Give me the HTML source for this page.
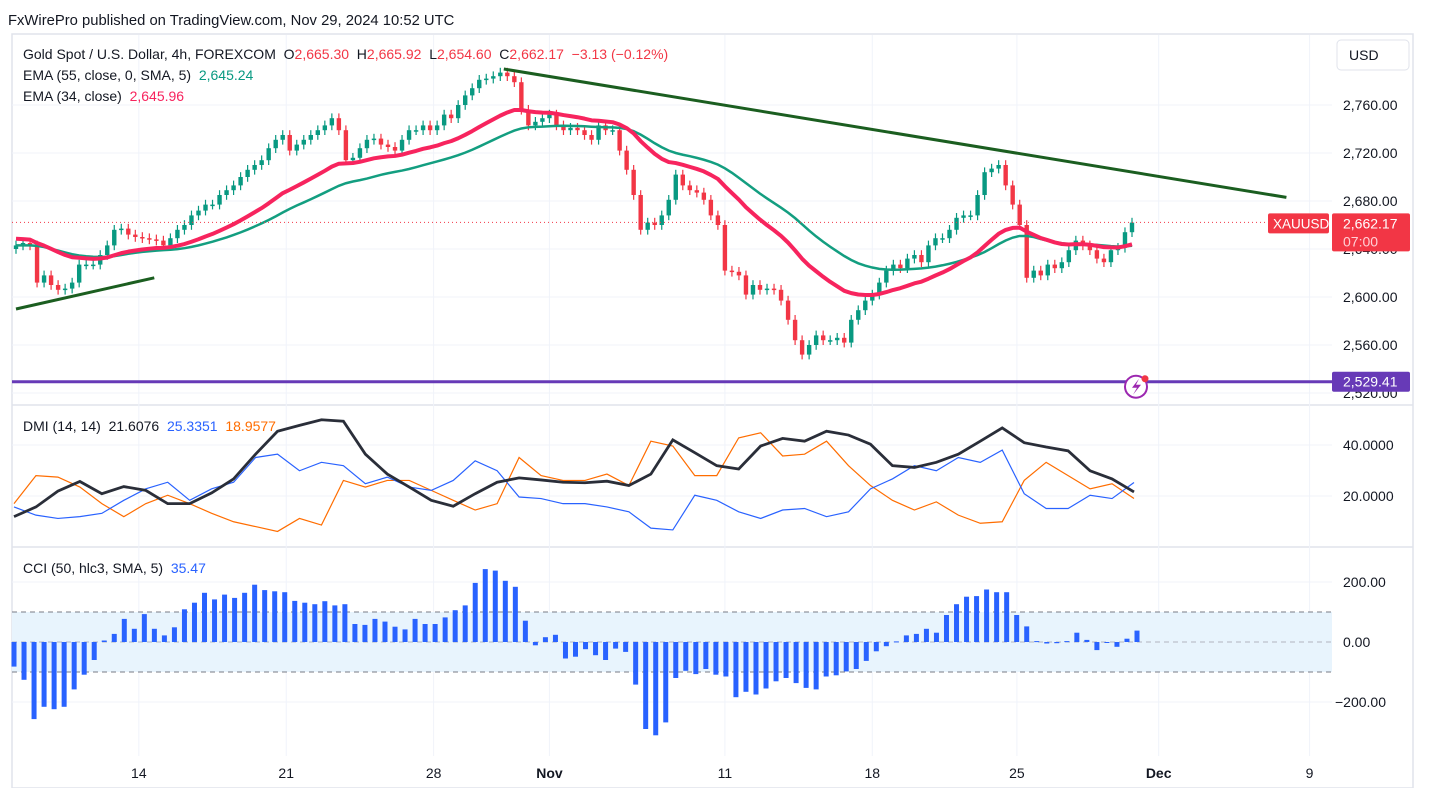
<!DOCTYPE html>
<html><head><meta charset="utf-8"><style>
html,body{margin:0;padding:0;background:#fff;}
svg{display:block;font-family:"Liberation Sans",sans-serif;}
text{white-space:pre;}
</style></head><body>
<svg id="c" width="1431" height="788" viewBox="0 0 1431 788" xmlns="http://www.w3.org/2000/svg">
<rect width="1431" height="788" fill="#fff"/>
<text x="8" y="25" font-size="14.8" fill="#131722">FxWirePro published on TradingView.com, Nov 29, 2024 10:52 UTC</text>
<g id="frame">
<rect x="12" y="34" width="1401" height="754" fill="none" stroke="#e0e3eb" stroke-width="1.5"/>
<line x1="12" y1="405" x2="1413" y2="405" stroke="#e0e3eb" stroke-width="1.5"/>
<line x1="12" y1="547" x2="1413" y2="547" stroke="#e0e3eb" stroke-width="1.5"/>
</g>
<g id="grid"></g>
<g id="cciband"></g>
<g id="plot"></g>
<g id="axes"></g>
<g id="legend">
<text x="23" y="59" font-size="14" fill="#131722">Gold Spot / U.S. Dollar, 4h, FOREXCOM  O<tspan fill="#f23645">2,665.30</tspan>  H<tspan fill="#f23645">2,665.92</tspan>  L<tspan fill="#f23645">2,654.60</tspan>  C<tspan fill="#f23645">2,662.17  −3.13 (−0.12%)</tspan></text>
<text x="23" y="80" font-size="14" fill="#131722">EMA (55, close, 0, SMA, 5)  <tspan fill="#089981">2,645.24</tspan></text>
<text x="23" y="101" font-size="14" fill="#131722">EMA (34, close)  <tspan fill="#f7245e">2,645.96</tspan></text>
<text x="23" y="431" font-size="14" fill="#131722">DMI (14, 14)  21.6076  <tspan fill="#2962ff">25.3351</tspan>  <tspan fill="#ff6d00">18.9577</tspan></text>
<text x="23" y="573" font-size="14" fill="#131722">CCI (50, hlc3, SMA, 5)  <tspan fill="#2962ff">35.47</tspan></text>
</g>
<g>
<rect x="1337" y="40" width="72" height="30" rx="4" fill="#fff" stroke="#e0e3eb"/>
<text x="1349" y="60" font-size="14" fill="#131722">USD</text>
</g>
</svg>
<script>
const closes=[2643,2645,2643,2612,2618,2610,2606,2607,2612,2627,2627,2627,2635,2643,2656,2657,2652,2650,2649,2648,2647,2643,2649,2656,2660,2668,2672,2677,2677,2685,2689,2693,2700,2706,2710,2714,2724,2731,2735,2722,2727,2731,2735,2739,2743,2749,2739,2714,2716,2724,2731,2732,2727,2725,2722,2731,2739,2739,2743,2739,2743,2752,2749,2760,2768,2774,2781,2782,2784,2787,2784,2779,2756,2743,2746,2749,2752,2743,2739,2741,2739,2735,2731,2743,2739,2739,2722,2706,2685,2656,2662,2660,2668,2681,2702,2693,2689,2687,2681,2668,2660,2622,2621,2618,2602,2610,2606,2607,2606,2597,2581,2564,2552,2560,2568,2564,2564,2566,2562,2581,2589,2597,2602,2612,2622,2627,2624,2632,2635,2629,2643,2649,2649,2656,2666,2668,2668,2685,2704,2707,2710,2693,2677,2660,2616,2622,2618,2627,2624,2629,2639,2647,2643,2639,2632,2629,2639,2641,2654,2662];
const firstOpen=2640;
const ema34Seed=2649, ema55Seed=2643;
const adx=[11.9,15.7,21.9,25.7,20.9,23.7,22.2,17,17,21.2,26.7,36.4,45.4,47.7,49.9,49.3,36.4,28.6,23.5,18.3,16,20.9,25.4,27.1,26.3,25.4,25.2,25.8,24.1,28.6,42,37,31.9,30.6,39.6,42.6,41.5,45.4,43.9,40.3,31.9,31.2,33.2,36.4,41.5,46.7,40.9,39.2,37.7,29.9,26.7,21.6];
const plusDI=[15.7,12.5,11.2,11.9,13.2,18.3,22.8,25.4,18.3,22.8,25.4,35.1,36.4,29.9,33.2,31.9,24.8,27.4,23.5,22.2,26.1,33.8,29.9,19.6,19,17,17,15.7,13.8,7.4,6.7,20.3,18.3,13.8,11.2,14.5,15.1,11.9,13.8,22.8,26.7,31.9,29.9,35.1,33.2,38,20.9,15.1,15.1,20.3,19,25.3];
const minusDI=[17,28,27.4,23.5,17,11.9,17,20.3,17,13.2,9.9,8,6.1,11.2,8.6,26.1,23.5,26.1,26.1,22.2,18.3,14.5,17,35.1,28,26.1,26.1,28.6,24.1,41.5,39.6,28,28,42.8,44.8,35.7,36.4,41.5,31.9,24.1,18.3,14.5,17.7,12.5,9.3,9.9,26.1,33.2,28,22.8,24.8,19];
const cci=[-82,-126,-257,-216,-224,-216,-158,-109,-60,5,27,77,44,93,44,22,49,109,131,164,142,158,147,164,191,173,169,166,137,131,126,136,122,126,60,57,77,68,51,42,77,60,60,82,106,122,197,243,238,204,184,71,-11,16,24,-55,-49,-24,-44,-60,-22,-33,-142,-290,-311,-268,-120,-96,-107,-90,-109,-115,-184,-166,-175,-155,-131,-120,-137,-153,-158,-115,-111,-98,-90,-63,-31,-14,2,22,27,44,31,90,126,151,153,175,166,166,90,52,3,-5,-4,3,31,7,-27,-3,-16,11,38];
const priceTicks=[2760,2720,2680,2640,2600,2560,2520];
const dmiTicks=[40,20];
const cciTicks=[200,0,-200];
const dateLabels=["14","21","28","Nov","11","18","25","Dec","9"];
const dateBars=[17.5,38.5,59.5,76,101,122,142.6,162.8,184.3];
const support=2529.41, lastPrice=2662.17;
const trendA=[[0,2590],[19.7,2616]];
const trendB=[[69.5,2790],[181,2683]];

const NS="http://www.w3.org/2000/svg";
const X0=16, X1=1132, PR=1332;
const step=(X1-X0)/(closes.length-1);
const xB=i=>X0+i*step;
const yP=p=>105+(2760-p)*1.2;
const yD=v=>496-(v-20)*2.55;
const yC=v=>642-v*0.3;
function mk(parent,tag,attrs){const e=document.createElementNS(NS,tag);for(const k in attrs)e.setAttribute(k,attrs[k]);document.getElementById(parent).appendChild(e);return e;}

priceTicks.forEach(t=>{const l=mk('grid','line',{x1:12,x2:PR,y1:yP(t),y2:yP(t),stroke:'#f0f3fa'});});
dmiTicks.forEach(t=>{const l=mk('grid','line',{x1:12,x2:PR,y1:yD(t),y2:yD(t),stroke:'#f0f3fa'});});
cciTicks.forEach(t=>{const l=mk('grid','line',{x1:12,x2:PR,y1:yC(t),y2:yC(t),stroke:'#f0f3fa'});});
dateBars.forEach(b=>{const l=mk('grid','line',{x1:xB(b),x2:xB(b),y1:35,y2:756,stroke:'#f0f3fa'});});

{const r=mk('cciband','rect',{x:12,y:yC(100),width:PR-12,height:yC(-100)-yC(100),fill:'#e8f4fd'});
[100,-100].forEach(v=>{const l=mk('cciband','line',{x1:12,x2:PR,y1:yC(v),y2:yC(v),stroke:'#787b86','stroke-dasharray':'5,4'});});
const z=mk('cciband','line',{x1:12,x2:PR,y1:yC(0),y2:yC(0),stroke:'#b2b5be','stroke-dasharray':'5,4'});}

closes.forEach((c,i)=>{const o=i?closes[i-1]:firstOpen;const up=c>=o;const col=up?'#089981':'#f23645';const x=xB(i);
const hi=Math.max(o,c)+4, lo=Math.min(o,c)-4;
const w=mk('plot','line',{x1:x,x2:x,y1:yP(hi),y2:yP(lo),stroke:col,'stroke-width':1.2});
const top=yP(Math.max(o,c)),bot=yP(Math.min(o,c));
const b=mk('plot','rect',{x:x-2.2,y:top,width:4.4,height:Math.max(1.5,bot-top),fill:col});});

function ema(seed,n){const k=2/(n+1);let e=seed;return closes.map(c=>e=e+(c-e)*k);}
const e34=ema(ema34Seed,24);
const e55raw=ema(ema55Seed,38);
const e55=e55raw.map((v,i)=>{const s=e55raw.slice(Math.max(0,i-2),i+1);return s.reduce((a,b)=>a+b,0)/s.length;});
{const p1=mk('plot','polyline',{points:e55.map((v,i)=>xB(i)+','+yP(v)).join(' '),fill:'none',stroke:'#139e80','stroke-width':2.5});
const p2=mk('plot','polyline',{points:e34.map((v,i)=>xB(i)+','+yP(v)).join(' '),fill:'none',stroke:'#f7245e','stroke-width':4,'stroke-linejoin':'round'});}

[trendA,trendB].forEach(t=>{const l=mk('plot','line',{x1:xB(t[0][0]),y1:yP(t[0][1]),x2:xB(t[1][0]),y2:yP(t[1][1]),stroke:'#1b5e20','stroke-width':3});});

{const s=mk('plot','line',{x1:12,x2:PR,y1:yP(support),y2:yP(support),stroke:'#673ab7','stroke-width':3});
const d=mk('plot','line',{x1:12,x2:1268,y1:yP(lastPrice),y2:yP(lastPrice),stroke:'#f23645','stroke-width':1,'stroke-dasharray':'1,3'});}

const dStep=(1134-14)/(adx.length-1);
[[minusDI,'#ff6d00',1.2,'minus-di-line'],[plusDI,'#2962ff',1.2,'plus-di-line'],[adx,'#2a2e39',2.8,'adx-line']].forEach(s=>{
const p=mk('plot','polyline',{points:s[0].map((v,i)=>(14+i*dStep)+','+yD(v)).join(' '),fill:'none',stroke:s[1],'stroke-width':s[2]});});

const cStep=(1137-14)/(cci.length-1);
cci.forEach((v,i)=>{const x=14+i*cStep;const y0=yC(0),y1=yC(v);
const r=mk('plot','rect',{x:x-2.5,y:Math.min(y0,y1),width:5,height:Math.max(1,Math.abs(y1-y0)),fill:'#2962ff'});});

priceTicks.forEach(t=>{const tx=mk('axes','text',{x:1343,y:yP(t)+5,'font-size':14,fill:'#131722'});tx.textContent=t.toLocaleString('en-US',{minimumFractionDigits:2});});
dmiTicks.forEach(t=>{const tx=mk('axes','text',{x:1343,y:yD(t)+5,'font-size':14,fill:'#131722'});tx.textContent=t.toFixed(4);});
cciTicks.forEach(t=>{const tx=mk('axes','text',{x:t<0?1335:1343,y:yC(t)+5,'font-size':14,fill:'#131722'});tx.textContent=(t<0?'−':'')+Math.abs(t).toFixed(2);});
dateLabels.forEach((d,i)=>{const tx=mk('axes','text',{x:xB(dateBars[i]),y:778,'font-size':14,fill:'#131722','text-anchor':'middle','font-weight':(d==='Nov'||d==='Dec')?'bold':'normal'});tx.textContent=d;});

{const yl=yP(lastPrice);
const r1=mk('axes','rect',{x:1268,y:yl-9,width:61,height:20,rx:2,fill:'#f23645'});
const t1=mk('axes','text',{x:1273,y:yl+6,'font-size':13.5,fill:'#fff'});t1.textContent='XAUUSD';
const r2=mk('axes','rect',{x:1332,y:yl-9,width:78,height:38,rx:2,fill:'#f23645'});
const t2=mk('axes','text',{x:1343,y:yl+6,'font-size':14,fill:'#fff'});t2.textContent=lastPrice.toLocaleString('en-US',{minimumFractionDigits:2});
const t3=mk('axes','text',{x:1343,y:yl+24,'font-size':14,fill:'#ffd0d6'});t3.textContent='07:00';
const ys=yP(support);
const r3=mk('axes','rect',{x:1332,y:ys-10,width:78,height:20,rx:2,fill:'#673ab7'});
const t4=mk('axes','text',{x:1343,y:ys+5,'font-size':14,fill:'#fff'});t4.textContent=support.toLocaleString('en-US',{minimumFractionDigits:2});
const c=mk('axes','circle',{cx:1136,cy:ys+5,r:11,fill:'#fff',stroke:'#9c27b0','stroke-width':2});
const bolt=mk('axes','path',{d:`M1139 ${ys-3} L1132 ${ys+6} L1137 ${ys+6} L1133 ${ys+13} L1141 ${ys+3} L1136 ${ys+3} Z`,fill:'#9c27b0'});
const dot=mk('axes','circle',{cx:1145,cy:ys-3,r:3.5,fill:'#f23645'});}
</script>
</body></html>
